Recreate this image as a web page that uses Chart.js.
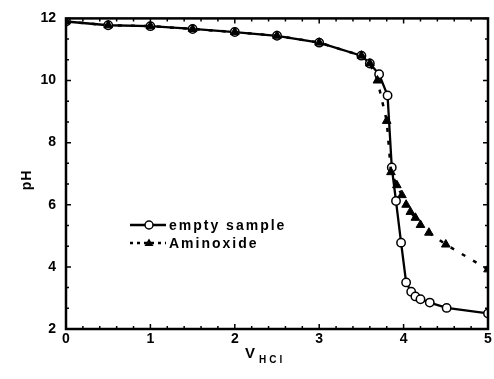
<!DOCTYPE html>
<html lang="en">
<head>
    <meta charset="UTF-8">
    <title>pH titration</title>
    <script src="https://cdn.jsdelivr.net/npm/chart.js"></script>
    <style>
        body {
            margin: 0;
            background: #ffffff;
        }
        #wrap {
            width: 494px;
            height: 379px;
        }
    </style>
</head>
<body>
    <div id="wrap"><canvas id="chart" width="494" height="379"></canvas></div>

    <script>
        // values
        const emptyX = [0, 0.5, 1, 1.5, 2, 2.5, 3, 3.5, 3.6, 3.71, 3.81, 3.86, 3.91, 3.97, 4.03, 4.09, 4.14, 4.2, 4.31, 4.51, 5];
        const emptyPH = [11.9, 11.78, 11.75, 11.66, 11.56, 11.44, 11.22, 10.8, 10.55, 10.2, 9.52, 7.2, 6.12, 4.78, 3.5, 3.2, 3.05, 2.96, 2.85, 2.68, 2.5];

        const aminoX = [0, 0.5, 1, 1.5, 2, 2.5, 3, 3.5, 3.6, 3.69, 3.8, 3.85, 3.92, 3.98, 4.03, 4.08, 4.14, 4.2, 4.3, 4.5, 5];
        const aminoPH = [11.9, 11.78, 11.75, 11.66, 11.56, 11.44, 11.22, 10.8, 10.55, 10.0, 8.7, 7.05, 6.63, 6.31, 6.0, 5.77, 5.58, 5.35, 5.1, 4.72, 3.92];

        const xTicks = [0, 1, 2, 3, 4, 5];
        const yTicks = [2, 4, 6, 8, 10, 12];
        const seriesNames = ["empty sample", "Aminoxide"];

        const FONT = "'Liberation Sans', Arial, sans-serif";

        function toPoints(xs, ys) {
            return xs.map((x, i) => ({ x: x, y: ys[i] }));
        }

        // frame, inward ticks, titles and legend
        const decor = {
            id: 'decor',
            afterDraw(chart) {
                const ctx = chart.ctx;
                const a = chart.chartArea;
                const xs = chart.scales.x;
                const ys = chart.scales.y;
                ctx.save();
                ctx.strokeStyle = '#000';
                ctx.fillStyle = '#000';

                // ticks
                ctx.lineWidth = 1.5;
                for (let i = 0; i <= 25; i++) {
                    const v = i * 0.2;
                    const px = xs.getPixelForValue(v);
                    const len = (i % 5 === 0) ? 5 : 3;
                    ctx.beginPath();
                    ctx.moveTo(px, a.bottom); ctx.lineTo(px, a.bottom - len);
                    ctx.moveTo(px, a.top); ctx.lineTo(px, a.top + len);
                    ctx.stroke();
                }
                for (let i = 0; i <= 15; i++) {
                    const v = 2 + i * 2 / 3;
                    const py = ys.getPixelForValue(v);
                    const len = (i % 3 === 0) ? 5 : 3;
                    ctx.beginPath();
                    ctx.moveTo(a.left, py); ctx.lineTo(a.left + len, py);
                    ctx.moveTo(a.right, py); ctx.lineTo(a.right - len, py);
                    ctx.stroke();
                }

                // frame
                ctx.lineWidth = 2.5;
                ctx.strokeRect(a.left, a.top, a.right - a.left, a.bottom - a.top);

                // axis titles
                ctx.textBaseline = 'alphabetic';
                ctx.textAlign = 'left';
                ctx.font = 'bold 15px ' + FONT;
                ctx.letterSpacing = '1px';
                ctx.fillText('V', 245, 358);
                ctx.font = 'bold 10px ' + FONT;
                ctx.letterSpacing = '3px';
                ctx.fillText('HCl', 259, 363);

                ctx.save();
                ctx.translate(31, 180);
                ctx.rotate(-Math.PI / 2);
                ctx.textAlign = 'center';
                ctx.font = 'bold 14px ' + FONT;
                ctx.letterSpacing = '1px';
                ctx.fillText('pH', 0, 0);
                ctx.restore();

                // legend
                const lx0 = 130, lx1 = 166, mx = 149;
                const rows = [225, 243];
                ctx.lineWidth = 2.3;
                ctx.beginPath();
                ctx.moveTo(lx0, rows[0]); ctx.lineTo(lx1, rows[0]);
                ctx.stroke();
                ctx.setLineDash([3, 4]);
                ctx.beginPath();
                ctx.moveTo(lx0, rows[1]); ctx.lineTo(lx1, rows[1]);
                ctx.stroke();
                ctx.setLineDash([]);
                ctx.fillStyle = '#fff';
                ctx.lineWidth = 1.5;
                ctx.beginPath();
                ctx.arc(mx, rows[0], 4, 0, Math.PI * 2);
                ctx.fill(); ctx.stroke();
                ctx.fillStyle = '#000';
                ctx.beginPath();
                ctx.moveTo(mx, rows[1] - 4.5);
                ctx.lineTo(mx + 4.5, rows[1] + 3);
                ctx.lineTo(mx - 4.5, rows[1] + 3);
                ctx.closePath();
                ctx.fill();

                ctx.font = 'bold 14px ' + FONT;
                ctx.letterSpacing = '2px';
                ctx.textBaseline = 'middle';
                ctx.fillText(seriesNames[0], 169, rows[0] + 1);
                ctx.fillText(seriesNames[1], 169, rows[1] + 1);
                ctx.restore();
            }
        };

        new Chart(document.getElementById('chart'), {
            type: 'scatter',
            data: {
                datasets: [
                    {
                        label: seriesNames[1],
                        data: toPoints(aminoX, aminoPH),
                        showLine: true,
                        borderColor: '#000',
                        borderWidth: 2.5,
                        borderDash: [4, 9],
                        pointStyle: 'triangle',
                        pointRadius: 5,
                        pointBackgroundColor: '#000',
                        pointBorderColor: '#000',
                        pointBorderWidth: 1,
                        clip: 0,
                        order: 0
                    },
                    {
                        label: seriesNames[0],
                        data: toPoints(emptyX, emptyPH),
                        showLine: true,
                        borderColor: '#000',
                        borderWidth: 2.3,
                        pointStyle: 'circle',
                        pointRadius: 4.2,
                        pointBackgroundColor: '#fff',
                        pointBorderColor: '#000',
                        pointBorderWidth: 1.5,
                        clip: 0,
                        order: 1
                    }
                ]
            },
            options: {
                responsive: false,
                animation: false,
                layout: { padding: { left: 0, top: 16, right: 5, bottom: 0 } },
                plugins: {
                    legend: { display: false },
                    tooltip: { enabled: false }
                },
                scales: {
                    x: {
                        type: 'linear',
                        min: 0,
                        max: 5,
                        afterFit(scale) { scale.height = 50; },
                        afterBuildTicks(scale) { scale.ticks = xTicks.map(v => ({ value: v })); },
                        grid: { display: false, drawTicks: false },
                        border: { display: false },
                        ticks: {
                            color: '#000',
                            padding: 2,
                            font: { family: FONT, size: 14, weight: 'bold' }
                        }
                    },
                    y: {
                        type: 'linear',
                        min: 2,
                        max: 12,
                        afterFit(scale) { scale.width = 66; },
                        afterBuildTicks(scale) { scale.ticks = yTicks.map(v => ({ value: v })); },
                        grid: { display: false, drawTicks: false },
                        border: { display: false },
                        ticks: {
                            color: '#000',
                            padding: 10,
                            font: { family: FONT, size: 14, weight: 'bold' }
                        }
                    }
                }
            },
            plugins: [decor]
        });
    </script>
</body>
</html>
